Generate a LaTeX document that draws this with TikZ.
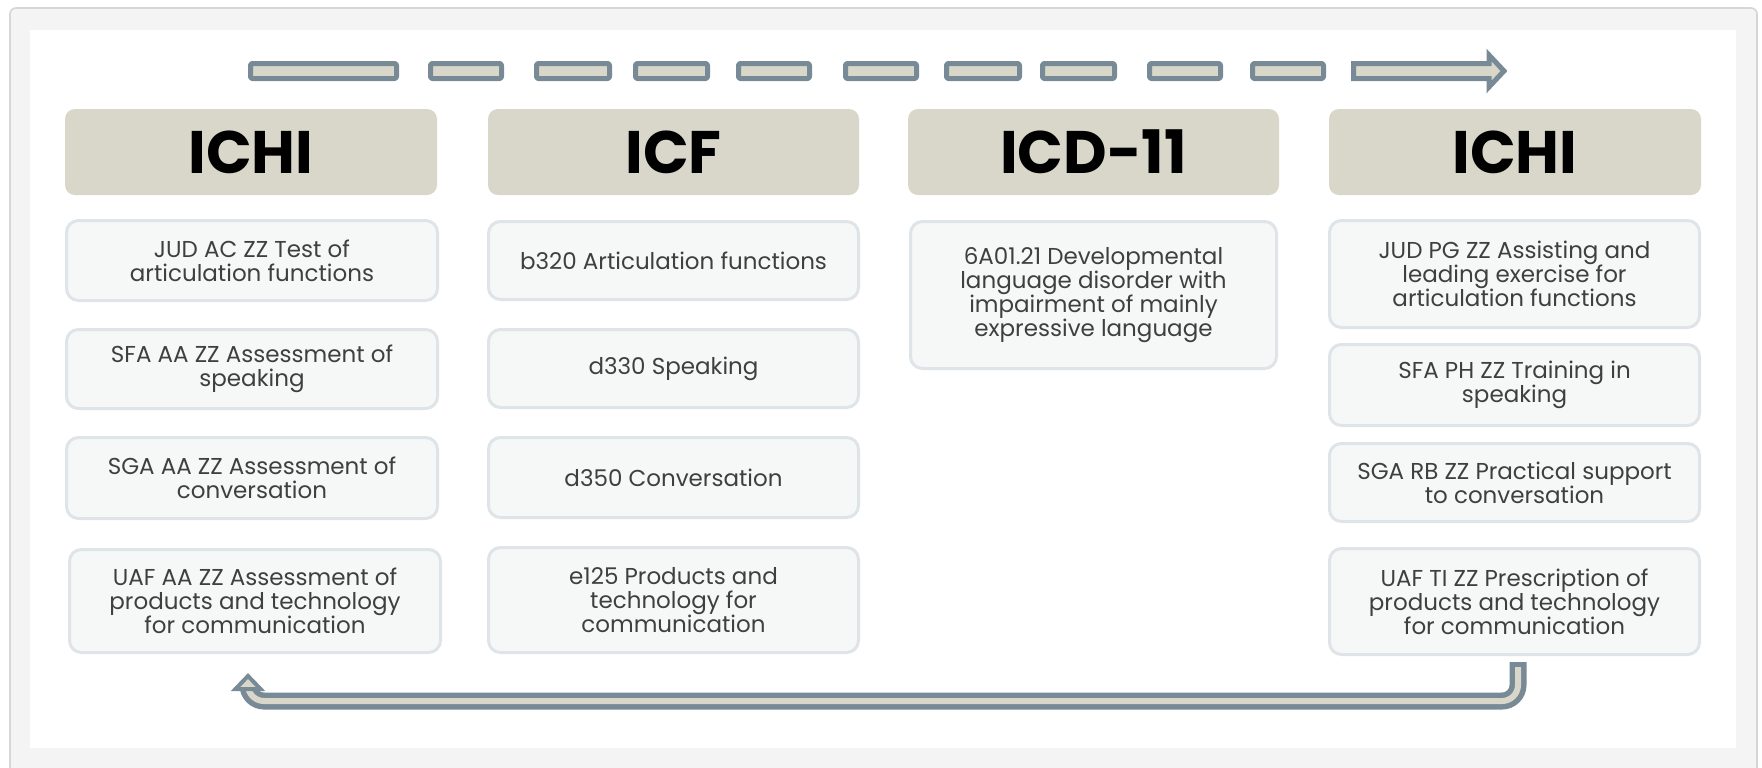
\documentclass[tikz,border=0pt]{standalone}
\usepackage{fontspec}
\setmainfont{Poppins}
\definecolor{beige}{HTML}{D9D7CA}
\definecolor{arrowgray}{HTML}{788A95}
\definecolor{boxfill}{HTML}{F6F8F8}
\definecolor{boxline}{HTML}{DEE4E7}
\definecolor{txtgray}{HTML}{3F3F3F}
\definecolor{band}{HTML}{F4F4F4}
\definecolor{bandline}{HTML}{D6D6D6}
\tikzset{
  hdr/.style={fill=beige, draw=none, rounded corners=5pt, inner sep=0pt,
    font=\fontsize{30}{30}\selectfont\bfseries, text=black},
  box/.style={fill=boxfill, draw=boxline, line width=1.5pt, rounded corners=6pt,
    inner sep=0pt, align=center, text=txtgray,
    font=\fontsize{11.5}{12}\selectfont},
  dashbox/.style={draw=arrowgray, fill=beige, line width=2.5pt, line join=round},
}
\newcommand\hdrnode[4]{\node[hdr, minimum width=#3*0.5pt-1pt, minimum height=86*0.5pt] (#1) at (#2,152) {#4};}
\newcommand\bxnode[6]{\node[box, minimum width=#4*0.5pt-1.5pt, minimum height=#5*0.5pt-1.5pt] (#1) at (#2,#3) {#6};}
\begin{document}
\begin{tikzpicture}[x=0.5pt,y=-0.5pt]
\useasboundingbox (0,0) rectangle (1762,767);
\fill[white] (0,0) rectangle (1762,767);
\draw[fill=band, draw=bandline, line width=0.8pt, rounded corners=3pt] (10,8) rectangle (1757,790);
\fill[white] (30,30) rectangle (1736,748);
% top dashed arrow
\foreach \a/\b in {248/399, 428/504, 534/612, 633/710, 736/812, 843/919, 944/1022, 1040/1117, 1147/1223, 1250/1326}
  \draw[dashbox, rounded corners=1pt] (\a+2.5,63.5) rectangle (\b-2.5,78.5);
\draw[dashbox, line join=miter] (1353.5,63.5) -- (1489,63.5) -- (1489,55) -- (1504,71) -- (1489,87) -- (1489,78.5) -- (1353.5,78.5) -- cycle;
% headers
\hdrnode{h1}{251}{374}{ICHI}
\hdrnode{h2}{673.5}{373}{ICF}
\hdrnode{h3}{1093.5}{373}{ICD-11}
\hdrnode{h4}{1515}{374}{ICHI}
% column 1
\bxnode{a1}{252}{260.5}{374}{83}{JUD AC ZZ Test of\\articulation functions}
\bxnode{a2}{252}{369}{374}{82}{SFA AA ZZ Assessment of\\speaking}
\bxnode{a3}{252}{478}{374}{84}{SGA AA ZZ Assessment of\\conversation}
\bxnode{a4}{255}{601}{374}{106}{UAF AA ZZ Assessment of\\products and technology\\for communication}
% column 2
\bxnode{b1}{673.5}{260.5}{373}{81}{b320 Articulation functions}
\bxnode{b2}{673.5}{368.5}{373}{81}{d330 Speaking}
\bxnode{b3}{673.5}{477.5}{373}{83}{d350 Conversation}
\bxnode{b4}{673.5}{600}{373}{108}{e125 Products and\\technology for\\communication}
% column 3
\bxnode{c1}{1093.5}{295}{369}{150}{6A01.21 Developmental\\language disorder with\\impairment of mainly\\expressive language}
% column 4
\bxnode{d1}{1514.5}{274}{373}{110}{JUD PG ZZ  Assisting and\\leading exercise for\\articulation functions}
\bxnode{d2}{1514.5}{385}{373}{84}{SFA PH ZZ Training in\\speaking}
\bxnode{d3}{1514.5}{482.5}{373}{81}{SGA RB ZZ Practical support\\to conversation}
\bxnode{d4}{1514.5}{601.5}{373}{109}{UAF TI ZZ Prescription of\\products and technology\\for communication}
% bottom return arrow
\coordinate (rs) at (1518,662);
\coordinate (rc1) at (1518,701);
\coordinate (rc2) at (248,701);
\coordinate (re) at (248,689);
\draw[arrowgray, line width=8.5pt, rounded corners=8pt] (rs) -- (rc1) -- (rc2) -- (re);
\draw[beige, line width=3pt, rounded corners=8pt] ([yshift=-2.5pt]rs) -- (rc1) -- (rc2) -- (re);
\coordinate (hl) at (235.5,689);
\coordinate (ht) at (248,676);
\coordinate (hr) at (260.5,689);
\draw[dashbox, line width=2pt, line join=miter] (hl) -- (ht) -- (hr) -- cycle;
\end{tikzpicture}
\end{document}
